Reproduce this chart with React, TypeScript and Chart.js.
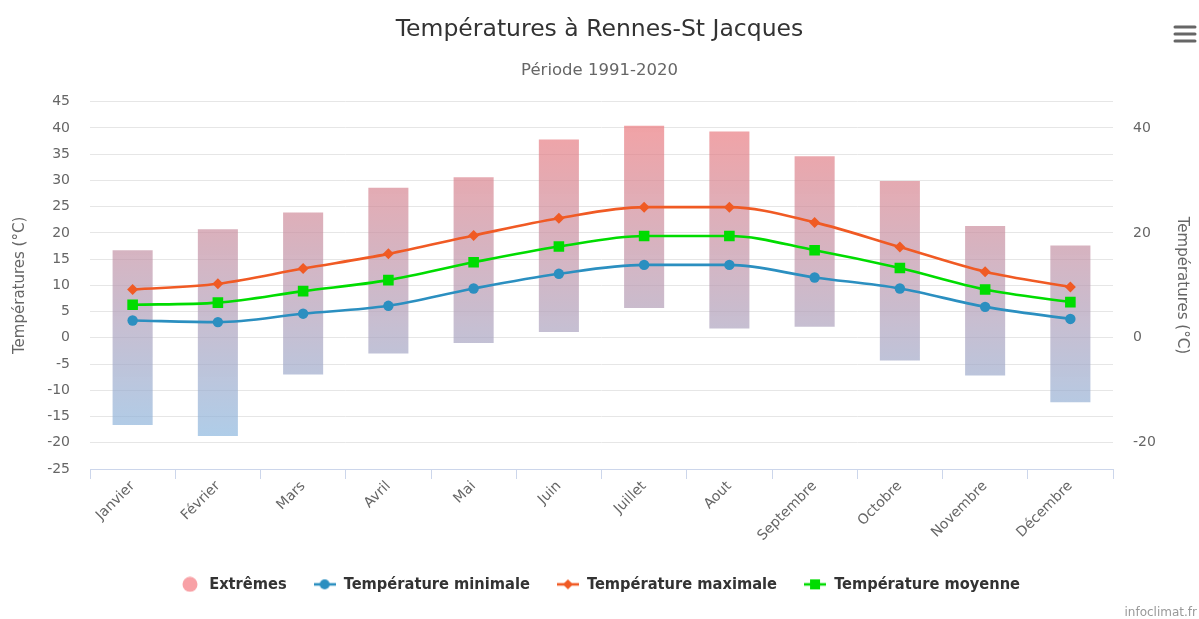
import React, { useEffect, useRef } from 'react';
import { Chart, registerables } from 'chart.js';

Chart.register(...registerables);

const months = ['Janvier', 'Février', 'Mars', 'Avril', 'Mai', 'Juin', 'Juillet', 'Aout', 'Septembre', 'Octobre', 'Novembre', 'Décembre'];
const extremeLow = [-16.6, -18.7, -7.0, -3.0, -1.0, 1.1, 5.7, 1.8, 2.1, -4.3, -7.2, -12.3];
const extremeHigh = [16.7, 20.7, 23.9, 28.6, 30.6, 37.8, 40.4, 39.3, 34.6, 29.9, 21.3, 17.6];
const tMin = [3.3, 3.0, 4.6, 6.1, 9.4, 12.2, 13.9, 13.9, 11.5, 9.4, 5.9, 3.6];
const tMax = [9.2, 10.3, 13.2, 16.0, 19.5, 22.8, 24.9, 24.9, 22.0, 17.3, 12.6, 9.7];
const tMean = [6.3, 6.7, 8.9, 11.0, 14.4, 17.4, 19.4, 19.4, 16.7, 13.3, 9.2, 6.8];
const rightTickValues = [-20, 0, 20, 40];

const BLUE = '#2b8fc0';
const ORANGE = '#f05a24';
const GREEN = '#00dc00';
const PINK = '#f8a1a6';
const FONT = "'DejaVu Sans', sans-serif";

function makeIcon(color: string, shape: string): HTMLCanvasElement {
  const c = document.createElement('canvas');
  c.width = 22;
  c.height = 16;
  const ctx = c.getContext('2d') as CanvasRenderingContext2D;
  ctx.fillStyle = color;
  ctx.strokeStyle = color;
  if (shape === 'bigcircle') {
    ctx.beginPath();
    ctx.arc(11, 8, 7.5, 0, Math.PI * 2);
    ctx.fill();
    return c;
  }
  ctx.lineWidth = 2.6;
  ctx.beginPath();
  ctx.moveTo(0, 8);
  ctx.lineTo(22, 8);
  ctx.stroke();
  ctx.beginPath();
  if (shape === 'circle') {
    ctx.arc(11, 8, 5, 0, Math.PI * 2);
  } else if (shape === 'diamond') {
    ctx.moveTo(11, 3);
    ctx.lineTo(16, 8);
    ctx.lineTo(11, 13);
    ctx.lineTo(6, 8);
    ctx.closePath();
  } else {
    ctx.rect(6, 3, 10, 10);
  }
  ctx.fill();
  return c;
}

function barGradient(chart: any) {
  const a = chart.chartArea;
  if (!a) return PINK;
  const g = chart.ctx.createLinearGradient(0, a.top, 0, a.bottom);
  g.addColorStop(0, 'rgba(242,118,120,0.7)');
  g.addColorStop(1, 'rgba(128,188,232,0.68)');
  return g;
}

const extrasPlugin = {
  id: 'extras',
  afterDraw(chart: any) {
    const ctx = chart.ctx as CanvasRenderingContext2D;
    ctx.save();
    ctx.strokeStyle = '#666';
    ctx.lineWidth = 3;
    ctx.lineCap = 'round';
    [27, 34, 41].forEach((y) => {
      ctx.beginPath();
      ctx.moveTo(1175, y);
      ctx.lineTo(1195, y);
      ctx.stroke();
    });
    ctx.fillStyle = '#999';
    ctx.font = `12px ${FONT}`;
    ctx.textAlign = 'right';
    ctx.textBaseline = 'alphabetic';
    ctx.fillText('infoclimat.fr', 1197, 616);
    ctx.restore();
  },
};

export default function App() {
  const ref = useRef<HTMLCanvasElement | null>(null);

  useEffect(() => {
    if (!ref.current) return;
    const icons = [
      makeIcon(PINK, 'bigcircle'),
      makeIcon(BLUE, 'circle'),
      makeIcon(ORANGE, 'diamond'),
      makeIcon(GREEN, 'square'),
    ];
    Chart.defaults.font.family = FONT;
    const tickFont = { family: FONT, size: 14 };
    const lineCommon = {
      type: 'line',
      pointBorderWidth: 0,
      borderWidth: 2.6,
      cubicInterpolationMode: 'monotone',
      fill: false,
      yAxisID: 'y',
    };
    const chart = new Chart(ref.current, {
      type: 'bar',
      data: {
        labels: months,
        datasets: [
          {
            type: 'bar',
            label: 'Extrêmes',
            data: months.map((_, i) => [extremeLow[i], extremeHigh[i]]),
            backgroundColor: (c: any) => barGradient(c.chart),
            categoryPercentage: 1,
            barPercentage: 0.47,
            order: 10,
            yAxisID: 'y',
          },
          {
            ...lineCommon,
            label: 'Température minimale',
            data: tMin,
            borderColor: BLUE,
            backgroundColor: BLUE,
            pointStyle: 'circle',
            pointRadius: 5.2,
            order: 3,
          },
          {
            ...lineCommon,
            label: 'Température maximale',
            data: tMax,
            borderColor: ORANGE,
            backgroundColor: ORANGE,
            pointStyle: 'rectRot',
            pointRadius: 5.5,
            order: 2,
          },
          {
            ...lineCommon,
            label: 'Température moyenne',
            data: tMean,
            borderColor: GREEN,
            backgroundColor: GREEN,
            pointStyle: 'rect',
            pointRadius: 7.5,
            order: 1,
          },
        ],
      } as any,
      options: {
        animation: false,
        responsive: false,
        devicePixelRatio: 1,
        layout: { padding: { top: 0, left: 0, right: 0, bottom: 16.5 } },
        scales: {
          x: {
            type: 'category',
            offset: true,
            grid: {
              display: true,
              drawOnChartArea: false,
              drawTicks: true,
              tickLength: 10,
              color: '#ccd6eb',
              offset: true,
            },
            border: { display: true, color: '#ccd6eb' },
            ticks: {
              autoSkip: false,
              minRotation: 45,
              maxRotation: 45,
              color: '#666',
              font: tickFont,
              padding: -1,
            },
            afterFit: (s: any) => {
              s.height = 80.2;
            },
          },
          y: {
            position: 'left',
            min: -25,
            max: 45,
            ticks: { stepSize: 5, color: '#666', font: tickFont, padding: 20 },
            grid: { color: '#e6e6e6', drawTicks: false },
            border: { display: false },
            title: {
              display: true,
              text: 'Températures (°C)',
              color: '#666',
              font: { family: FONT, size: 15 },
              padding: { top: 11, bottom: 0 },
            },
            afterFit: (s: any) => {
              s.width = 90;
            },
          },
          y1: {
            position: 'right',
            min: -25,
            max: 45,
            afterBuildTicks: (s: any) => {
              s.ticks = rightTickValues.map((v) => ({ value: v }));
            },
            ticks: { color: '#666', font: tickFont, padding: 20 },
            grid: { display: false, drawTicks: false },
            border: { display: false },
            title: {
              display: true,
              text: 'Températures (°C)',
              color: '#666',
              font: { family: FONT, size: 15 },
              padding: { top: 8, bottom: 0 },
            },
            afterFit: (s: any) => {
              s.width = 86;
            },
          },
        },
        plugins: {
          title: {
            display: true,
            text: 'Températures à Rennes-St Jacques',
            color: '#333',
            font: { family: FONT, size: 23.5, weight: 'normal' },
            padding: { top: 15.9, bottom: 0 },
          },
          subtitle: {
            display: true,
            text: 'Période 1991-2020',
            color: '#666',
            font: { family: FONT, size: 16.5, weight: 'normal' },
            padding: { top: 17, bottom: 20.8 },
          },
          legend: {
            position: 'bottom',
            labels: {
              usePointStyle: true,
              pointStyleWidth: 22,
              boxHeight: 16,
              padding: 27,
              color: '#333',
              font: { family: "'DejaVu Sans Condensed', 'DejaVu Sans', sans-serif", size: 16.3, weight: 'bold' },
              generateLabels: (c: any) =>
                c.data.datasets.map((ds: any, i: number) => ({
                  text: ds.label,
                  pointStyle: icons[i],
                  fillStyle: 'transparent',
                  strokeStyle: 'transparent',
                  lineWidth: 0,
                  fontColor: '#333',
                  hidden: !c.isDatasetVisible(i),
                  datasetIndex: i,
                })),
            },
          },
          tooltip: { enabled: false },
        },
      } as any,
      plugins: [extrasPlugin],
    });
    return () => chart.destroy();
  }, []);

  return (
    <div style={{ position: 'absolute', left: 0, top: 0, width: 1199, height: 619, background: '#fff' }}>
      <canvas ref={ref} width={1199} height={619} style={{ display: 'block' }} />
    </div>
  );
}
